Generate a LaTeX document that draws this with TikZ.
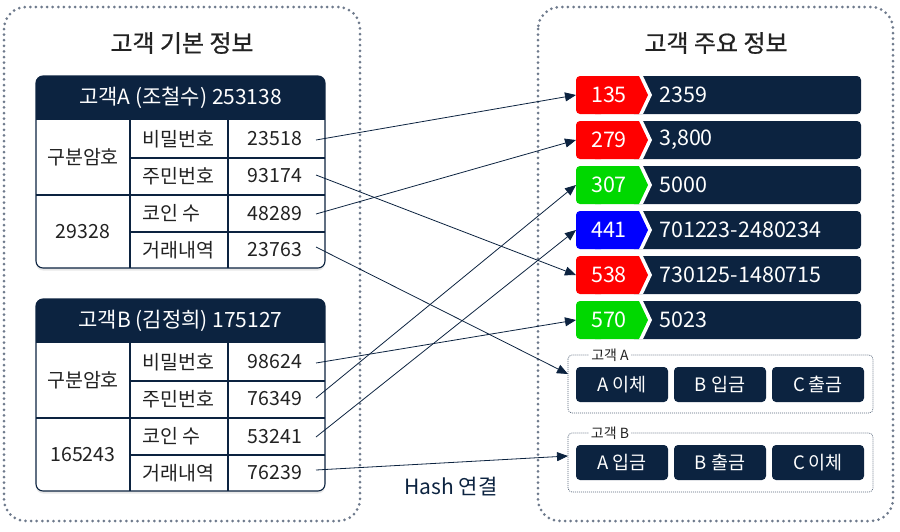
\documentclass[tikz,border=0pt]{standalone}
\usepackage{fontspec}
\setmainfont{Noto Sans CJK KR}
\newfontfamily\medfont[FakeBold=0.7]{Noto Sans CJK KR}
\usetikzlibrary{arrows.meta,shadows}
\definecolor{navy}{HTML}{0C2340}
\definecolor{dotgray}{HTML}{6E7A8C}
\definecolor{txt}{HTML}{222222}
\definecolor{tgreen}{HTML}{00D800}
\definecolor{tred}{HTML}{FF0000}
\definecolor{tblue}{HTML}{0000FF}
\tikzset{
  panel/.style={draw=dotgray, line width=3pt, dash pattern=on 0pt off 5.6pt, line cap=round, rounded corners=22},
  tline/.style={draw=navy, line width=1.1pt},
  hdr/.style={text=white, font=\fontsize{21}{23}\selectfont, inner sep=0pt},
  cell/.style={text=txt, font=\fontsize{19.5}{21}\selectfont, inner sep=0pt},
  keytxt/.style={text=white, font=\fontsize{21.5}{23}\selectfont, inner sep=0pt},
  btn/.style={fill=navy, rounded corners=4, text=white, minimum width=92pt, minimum height=35pt, inner sep=0pt, font=\fontsize{18.5}{20}\selectfont},
  gbox/.style={draw=navy!70, line width=0.7pt, dash pattern=on 1pt off 1pt, rounded corners=4},
  glabel/.style={fill=white, text=txt, inner sep=2pt, font=\fontsize{14}{15}\selectfont},
  conn/.style={draw=navy, line width=0.8pt, -{Triangle[length=11pt,width=9pt]}},
  titletxt/.style={text=txt, font=\medfont\fontsize{24}{26}\selectfont, inner sep=0pt}
}
\newcommand\ctable[7]{%
  \fill[white, rounded corners=7, drop shadow={shadow xshift=0pt, shadow yshift=-2.5pt, opacity=0.18}] (36,76) rectangle (325,268);
  \begin{scope}
    \clip[rounded corners=7] (36,76) rectangle (325,268);
    \fill[navy] (36,76) rectangle (325,120);
  \end{scope}
  \draw[tline] (130,120) -- (130,268) (228,120) -- (228,268) (130,158) -- (325,158) (36,195) -- (325,195) (130,232) -- (325,232);
  \draw[tline, rounded corners=7] (36,76) rectangle (325,268);
  \node[hdr] (#1h) at (180.5,98) {#2};
  \node[cell] (#1c1) at (83,157) {구분암호};
  \node[cell] (#1c2) at (83,232) {#3};
  \node[cell, anchor=west] (#1l1) at (142,139) {비밀번호};
  \node[cell, anchor=west] (#1l2) at (142,176) {주민번호};
  \node[cell, anchor=west] (#1l3) at (142,213.5) {코인 수};
  \node[cell, anchor=west] (#1l4) at (142,250) {거래내역};
  \node[cell] (#1v1) at (275,139) {#4};
  \node[cell] (#1v2) at (275,176) {#5};
  \node[cell] (#1v3) at (275,213.5) {#6};
  \node[cell] (#1v4) at (275,250) {#7};
  \coordinate (#1s1) at (316,140);
  \coordinate (#1s2) at (316,175);
  \coordinate (#1s3) at (316,214);
  \coordinate (#1s4) at (316,247);
}
\newcommand\tagrow[5]{%
  \fill[navy, rounded corners=4] (630,#2) rectangle (861,#2+38);
  \fill[white] (590,#2) -- (643,#2) -- (652,#2+19) -- (643,#2+38) -- (590,#2+38) -- cycle;
  \fill[#3, rounded corners=4] (576,#2) rectangle (605,#2+38);
  \fill[#3] (595,#2) -- (639,#2) -- (648,#2+19) -- (639,#2+38) -- (595,#2+38) -- cycle;
  \node[keytxt] (#1k) at (609,#2+19) {#4};
  \node[keytxt, anchor=west] (#1v) at (659,#2+19) {#5};
  \coordinate (#1in) at (576,#2+19);
}
\begin{document}
\begin{tikzpicture}[x=1pt,y=-1pt]
\useasboundingbox (0,0) rectangle (900,531);
% panels
\draw[panel] (4,7) rectangle (360,521);
\draw[panel] (538,7) rectangle (893,521);
\node[titletxt] (t1) at (182,43) {고객 기본 정보};
\node[titletxt] (t2) at (716,43) {고객 주요 정보};
% tables
\ctable{A}{고객A (조철수) 253138}{29328}{23518}{93174}{48289}{23763}
\begin{scope}[shift={(0,223)}]
\ctable{B}{고객B (김정희) 175127}{165243}{98624}{76349}{53241}{76239}
\end{scope}
% tags
\tagrow{r1}{76}{tred}{135}{2359}
\tagrow{r2}{121}{tred}{279}{3,800}
\tagrow{r3}{166}{tgreen}{307}{5000}
\tagrow{r4}{211}{tblue}{441}{701223-2480234}
\tagrow{r5}{256}{tred}{538}{730125-1480715}
\tagrow{r6}{301}{tgreen}{570}{5023}
% group boxes
\draw[gbox] (568,355) rectangle (873,413);
\node[glabel] (gAl) at (610,355) {고객 A};
\node[btn] (bA1) at (622,384.5) {A 이체};
\node[btn] (bA2) at (720,384.5) {B 입금};
\node[btn] (bA3) at (818,384.5) {C 출금};
\coordinate (gAin) at (568,374);
\draw[gbox] (568,433) rectangle (873,492);
\node[glabel] (gBl) at (610,433) {고객 B};
\node[btn] (bB1) at (622,462.5) {A 입금};
\node[btn] (bB2) at (720,462.5) {B 출금};
\node[btn] (bB3) at (818,462.5) {C 이체};
\coordinate (gBin) at (568,456);
% connectors
\draw[conn] (As1) -- (r1in);
\draw[conn] (As2) -- (r5in);
\draw[conn] (As3) -- (r2in);
\draw[conn] (As4) -- (gAin);
\draw[conn] (Bs1) -- (r6in);
\draw[conn] (Bs2) -- (r3in);
\draw[conn] (Bs3) -- (r4in);
\draw[conn] (Bs4) -- (gBin);
\node[text=navy, font=\fontsize{21}{23}\selectfont, inner sep=0pt] (hash) at (451,487) {Hash 연결};
\end{tikzpicture}
\end{document}
